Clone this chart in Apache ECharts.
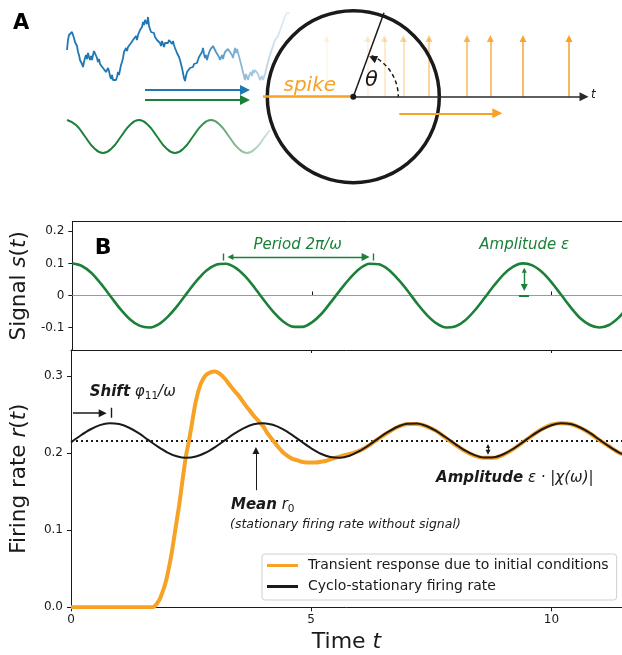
<!DOCTYPE html>
<html>
<head>
<meta charset="utf-8">
<script src="https://cdn.jsdelivr.net/npm/echarts@6/dist/echarts.min.js"></script>
<style>
  html, body { margin: 0; padding: 0; background: #fff; }
  #chart { width: 622px; height: 655px; }
</style>
</head>
<body>
<div id="chart"></div>
<script>
const FONT = "DejaVu Sans";
const ORANGE = "#f7a125";
const GREEN = "#1b8038";
const BLUE = "#1f77b4";
const INK = "#1a1a1a";

// ---- panel B: values ----
const timeTicks = [0, 5, 10];
const timeTickLabels = ["0", "5", "10"];
const signalTicks = [-0.1, 0, 0.1, 0.2];
const signalTickLabels = ["-0.1", "0", "0.1", "0.2"];
const rateTicks = [0, 0.1, 0.2, 0.3];
const rateTickLabels = ["0.0", "0.1", "0.2", "0.3"];

const sampleT = [0, 0.2, 0.4, 0.6, 0.8, 1.0, 1.2, 1.4, 1.6, 1.8, 2.0, 2.2, 2.4, 2.6, 2.8, 3.0, 3.2, 3.4, 3.6, 3.8,
  4.0, 4.2, 4.4, 4.6, 4.8, 5.0, 5.2, 5.4, 5.6, 5.8, 6.0, 6.2, 6.4, 6.6, 6.8, 7.0, 7.2, 7.4, 7.6, 7.8,
  8.0, 8.2, 8.4, 8.6, 8.8, 9.0, 9.2, 9.4, 9.6, 9.8, 10.0, 10.2, 10.4, 10.6, 10.8, 11.0, 11.2, 11.4, 11.6];
const signalS = [0.1, 0.092, 0.070, 0.036, -0.003, -0.042, -0.074, -0.094, -0.100, -0.090, -0.065, -0.031, 0.009,
  0.047, 0.078, 0.096, 0.099, 0.087, 0.061, 0.025, -0.015, -0.052, -0.081, -0.097, -0.098, -0.084, -0.057,
  -0.020, 0.019, 0.055, 0.084, 0.099, 0.097, 0.080, 0.050, 0.014, -0.026, -0.061, -0.087, -0.100, -0.096,
  -0.077, -0.046, -0.008, 0.031, 0.066, 0.090, 0.100, 0.094, 0.073, 0.041, 0.002, -0.037, -0.071, -0.092,
  -0.100, -0.092, -0.069, -0.035];
const cycloRate = [0.2141, 0.2230, 0.2308, 0.2365, 0.2389, 0.2379, 0.2334, 0.2263, 0.2176, 0.2088, 0.2012, 0.1960,
  0.1940, 0.1957, 0.2006, 0.2080, 0.2167, 0.2254, 0.2327, 0.2375, 0.2390, 0.2369, 0.2315, 0.2238, 0.2150,
  0.2064, 0.1993, 0.1950, 0.1941, 0.1968, 0.2026, 0.2104, 0.2193, 0.2276, 0.2344, 0.2383, 0.2386, 0.2353,
  0.2289, 0.2207, 0.2119, 0.2037, 0.1975, 0.1943, 0.1947, 0.1987, 0.2055, 0.2141, 0.2230, 0.2308, 0.2364,
  0.2389, 0.2379, 0.2334, 0.2263, 0.2176, 0.2088, 0.2012, 0.1959];
const transientT = [0, 0.5, 1.0, 1.5, 1.7, 1.75, 1.8, 1.85, 1.9, 1.95, 2.0, 2.05, 2.1, 2.15, 2.2, 2.25, 2.3, 2.35,
  2.4, 2.45, 2.5, 2.6, 2.7, 2.8, 2.9, 3.0, 3.1, 3.2, 3.3, 3.4, 3.5, 3.6, 3.7, 3.8, 3.9, 4.0, 4.1, 4.2, 4.3,
  4.4, 4.5, 4.6, 4.7, 4.8, 4.9, 5.0, 5.1, 5.2, 5.3, 5.4, 5.5, 5.6, 5.8, 6.0, 6.2, 6.4, 6.6, 6.8, 7.0, 7.2,
  7.4, 7.6, 7.8, 8.0, 8.2, 8.4, 8.6, 8.8, 9.0, 9.2, 9.4, 9.6, 9.8, 10.0, 10.2, 10.4, 10.6, 10.8, 11.0, 11.2,
  11.4, 11.6];
const transientRate = [0, 0, 0, 0, 0, 0.002, 0.006, 0.011, 0.019, 0.028, 0.040, 0.055, 0.072, 0.092, 0.112,
  0.132, 0.155, 0.178, 0.199, 0.214, 0.232, 0.268, 0.290, 0.301, 0.305, 0.306, 0.303, 0.297, 0.289, 0.281,
  0.274, 0.265, 0.257, 0.249, 0.242, 0.235, 0.225, 0.217, 0.209, 0.202, 0.197, 0.193, 0.191, 0.189, 0.188,
  0.188, 0.188, 0.189, 0.190, 0.192, 0.194, 0.196, 0.199, 0.203, 0.210, 0.219, 0.227, 0.234, 0.238, 0.238,
  0.235, 0.229, 0.220, 0.211, 0.203, 0.197, 0.194, 0.194, 0.198, 0.205, 0.214, 0.223, 0.231, 0.237, 0.239,
  0.238, 0.233, 0.226, 0.217, 0.209, 0.201, 0.196];
const meanRate = 0.2165;
const T_MAX = 11.47;

// ---- panel A sketch readings (sketch frame: 622 x 200, y down) ----
const blueNoiseStart = 67;
const blueNoise = [50, 40, 35, 33, 36, 32, 35, 38, 42, 40, 46, 52, 55, 60, 58, 64, 67, 62, 58, 55, 59, 53, 57, 60,
  56, 60, 55, 51, 49, 53, 58, 62, 59, 64, 66, 63, 68, 70, 67, 72, 73, 68, 71, 76, 79, 75, 80, 82, 78, 80, 77,
  72, 75, 70, 65, 62, 58, 52, 50, 48, 51, 47, 45, 46, 43, 44, 40, 42, 38, 36, 40, 35, 33, 30, 31, 27, 22, 25,
  20, 18, 24, 17, 26, 29, 32, 30, 34, 33, 37, 35, 40, 42, 38, 43, 46, 41, 44, 47, 43, 45, 41, 43, 40, 42, 39,
  44, 41, 45, 48, 50, 53, 51, 57, 60, 64, 68, 73, 78, 81, 76, 72, 70, 73, 68, 70, 66, 67, 64, 62, 66, 63, 60,
  57, 58, 55, 52, 48, 54, 58, 55, 60, 56, 54, 50, 52, 48, 46, 44, 47, 52, 50, 54, 57, 60, 58, 55, 59, 55, 52,
  50, 53, 49, 48, 52, 50, 55, 58, 56, 48, 53, 49, 47, 50, 60, 64, 66, 72, 76, 80, 74, 77, 80, 76, 75, 72, 76,
  70, 73, 70, 68, 72, 74, 76, 80, 78, 76, 80, 77, 74, 70, 68, 62, 58, 55, 52, 50, 46, 45, 40, 42, 38, 36, 33,
  32, 28, 26, 22, 20, 16, 15, 13, 14, 12, 13];
const greenSketch = [[67, 120], [76, 125], [85, 136.5], [94, 148], [103, 153], [112, 148], [121, 136.5],
  [130, 125], [139, 120], [148, 125], [157, 136.5], [166, 148], [175, 153], [184, 148], [193, 136.5],
  [202, 125], [211, 120], [220, 125], [229, 136.5], [238, 148], [247, 153], [256, 148], [265, 136.5], [270, 130]];
const phaseCenter = [353.3, 96.7];
const phaseRadius = 86;
const spikeX = [326.7, 367.7, 384.3, 403.3, 429, 467, 490.3, 523, 569];
const spikeAlpha = [0.1, 0.18, 0.28, 0.42, 0.58, 0.75, 0.85, 0.95, 1];

const chart = echarts.init(document.getElementById("chart"), null, { renderer: "canvas" });

function seg(grid, coords, color, width, opts = {}) {
  return {
    type: "lines",
    coordinateSystem: "cartesian2d",
    xAxisIndex: grid,
    yAxisIndex: grid,
    silent: true,
    z: opts.z || 6,
    symbol: opts.symbol || ["none", "none"],
    symbolSize: opts.size || 8,
    lineStyle: { color, width, type: opts.dash || "solid", opacity: 1, curveness: 0 },
    data: coords.map((c) => ({ coords: c })),
  };
}

function tickLabel(ticks, labels) {
  return (v) => {
    const i = ticks.findIndex((t) => Math.abs(t - v) < 1e-9);
    return i >= 0 ? labels[i] : "";
  };
}

const axisLine = { show: true, lineStyle: { color: INK, width: 1 } };
const labelStyle = { fontFamily: FONT, fontSize: 12, color: INK };

const fadeBlue = {
  type: "linear", x: 195, y: 0, x2: 290, y2: 0, global: true,
  colorStops: [
    { offset: 0, color: "rgba(31,119,180,1)" },
    { offset: 0.45, color: "rgba(31,119,180,0.55)" },
    { offset: 1, color: "rgba(31,119,180,0.1)" },
  ],
};
const fadeGreen = {
  type: "linear", x: 190, y: 0, x2: 272, y2: 0, global: true,
  colorStops: [
    { offset: 0, color: "rgba(27,128,56,1)" },
    { offset: 1, color: "rgba(27,128,56,0.18)" },
  ],
};

const arrowHead = ["none", "triangle"];
const bothHeads = ["triangle", "triangle"];

const option = {
  animation: false,
  backgroundColor: "#fff",
  textStyle: { fontFamily: FONT },
  grid: [
    { left: 0, top: 0, width: 622, height: 200 },
    { left: 70.6, top: 221.7, width: 553, height: 128.3 },
    { left: 70.6, top: 350, width: 553, height: 257.3 },
  ],
  xAxis: [
    { gridIndex: 0, type: "value", min: 0, max: 622, show: false },
    {
      gridIndex: 1, type: "value", min: 0, max: T_MAX,
      axisLine, splitLine: { show: false }, axisLabel: { show: false },
      axisTick: { show: true, inside: true, length: 4, customValues: timeTicks, lineStyle: { color: INK } },
    },
    {
      gridIndex: 2, type: "value", min: 0, max: T_MAX,
      name: "{n|Time }{i|t}", nameLocation: "middle", nameGap: 24,
      nameTextStyle: {
        rich: {
          n: { fontFamily: FONT, fontSize: 22, color: INK },
          i: { fontFamily: FONT, fontSize: 22, fontStyle: "italic", color: INK },
        },
      },
      axisLine, splitLine: { show: false },
      axisTick: { show: true, length: 4, customValues: timeTicks, lineStyle: { color: INK } },
      axisLabel: Object.assign({ margin: 7, customValues: timeTicks, formatter: tickLabel(timeTicks, timeTickLabels) }, labelStyle),
    },
    {
      gridIndex: 1, type: "value", min: 0, max: T_MAX, position: "top",
      axisLine, splitLine: { show: false }, axisLabel: { show: false }, axisTick: { show: false },
    },
    {
      gridIndex: 2, type: "value", min: 0, max: T_MAX, position: "top",
      axisLine, splitLine: { show: false }, axisLabel: { show: false },
      axisTick: { show: true, inside: true, length: 3, customValues: timeTicks, lineStyle: { color: INK } },
    },
  ],
  yAxis: [
    { gridIndex: 0, type: "value", min: 0, max: 200, inverse: true, show: false },
    {
      gridIndex: 1, type: "value", min: -0.17, max: 0.23,
      name: "Signal {i|s}({i|t})", nameLocation: "middle", nameGap: 41,
      nameTextStyle: {
        fontFamily: FONT, fontSize: 21.5, color: INK,
        rich: { i: { fontFamily: FONT, fontSize: 21.5, fontStyle: "italic", color: INK } },
      },
      axisLine, splitLine: { show: false },
      axisTick: { show: true, length: 4, customValues: signalTicks, lineStyle: { color: INK } },
      axisLabel: Object.assign({ margin: 8, customValues: signalTicks, formatter: tickLabel(signalTicks, signalTickLabels) }, labelStyle),
    },
    {
      gridIndex: 2, type: "value", min: 0, max: 0.334,
      name: "Firing rate {i|r}({i|t})", nameLocation: "middle", nameGap: 41,
      nameTextStyle: {
        fontFamily: FONT, fontSize: 21.5, color: INK,
        rich: { i: { fontFamily: FONT, fontSize: 21.5, fontStyle: "italic", color: INK } },
      },
      axisLine, splitLine: { show: false },
      axisTick: { show: true, length: 4, customValues: rateTicks, lineStyle: { color: INK } },
      axisLabel: Object.assign({ margin: 8, customValues: rateTicks, formatter: tickLabel(rateTicks, rateTickLabels) }, labelStyle),
    },
  ],
  legend: {
    data: ["Transient response due to initial conditions", "Cyclo-stationary firing rate"],
    orient: "vertical",
    left: 262, top: 554,
    padding: [4, 8, 6, 5],
    itemWidth: 31, itemHeight: 3, itemGap: 6,
    icon: "rect",
    textStyle: { fontFamily: FONT, fontSize: 14, color: INK, lineHeight: 15, padding: [0, 0, 0, 5] },
    borderColor: "#d0d0d0", borderWidth: 1, borderRadius: 3,
    backgroundColor: "rgba(255,255,255,0.85)",
  },
  series: [
    // panel A sketch
    {
      type: "line", xAxisIndex: 0, yAxisIndex: 0, showSymbol: false, symbol: "none", silent: true,
      lineStyle: { color: fadeBlue, width: 1.8 },
      data: blueNoise.map((y, i) => [blueNoiseStart + i, y]),
    },
    {
      type: "line", xAxisIndex: 0, yAxisIndex: 0, showSymbol: false, symbol: "none", silent: true, smooth: 0.5,
      lineStyle: { color: fadeGreen, width: 2 },
      data: greenSketch,
    },
    {
      type: "scatter", xAxisIndex: 0, yAxisIndex: 0, silent: true, symbol: "circle", symbolSize: phaseRadius * 2,
      itemStyle: { color: "rgba(0,0,0,0)", borderColor: INK, borderWidth: 3.5, opacity: 1 },
      data: [phaseCenter], z: 4,
    },
    seg(0, [[[145, 90], [245, 90]]], BLUE, 2, { symbol: arrowHead, size: [8, 10] }),
    seg(0, [[[145, 100], [245, 100]]], GREEN, 2, { symbol: arrowHead, size: [8, 10] }),
    seg(0, [[[399.3, 113.3], [497.3, 113.3]]], ORANGE, 2, { symbol: arrowHead, size: [8, 10] }),
    seg(0, [[phaseCenter, [584, 96.7]]], "#2a2a2a", 1.6, { symbol: arrowHead, size: [7, 9] }),
    seg(0, [[[263, 96.7], phaseCenter]], ORANGE, 2.5),
    seg(0, [[phaseCenter, [384, 12.7]]], INK, 1.5),
    seg(0, [[[374.8, 58.8], [372.8, 57.9]]], INK, 1.2, { symbol: arrowHead, size: [7, 8] }),
    ...spikeX.map((x, i) => seg(0, [[[x, 96.7], [x, 38.5]]], `rgba(247,161,37,${spikeAlpha[i]})`, 1.5,
      { symbol: arrowHead, size: [5, 7], z: 3 })),
    {
      type: "scatter", xAxisIndex: 0, yAxisIndex: 0, silent: true, symbolSize: 6,
      itemStyle: { color: INK, opacity: 1 }, data: [phaseCenter], z: 8,
    },

    // panel B, signal
    seg(1, [[[0, 0], [T_MAX, 0]]], "#9a9a9a", 1.2, { z: 2 }),
    {
      type: "line", xAxisIndex: 1, yAxisIndex: 1, showSymbol: false, symbol: "none", smooth: 0.3, silent: true,
      lineStyle: { color: GREEN, width: 2.6 }, z: 4,
      data: sampleT.map((t, i) => [t, signalS[i]]),
    },
    seg(1, [[[3.3, 0.12], [6.12, 0.12]]], GREEN, 1.4, { symbol: bothHeads, size: [6, 8] }),
    seg(1, [[[3.14, 0.109], [3.14, 0.131]], [[6.28, 0.109], [6.28, 0.131]]], GREEN, 1.4),
    seg(1, [[[9.43, 0.079], [9.43, 0.025]]], GREEN, 1.4, { symbol: bothHeads, size: [5, 7] }),
    seg(1, [[[9.32, 0], [9.53, 0]]], GREEN, 2.2),

    // panel B, firing rate
    seg(2, [[[0, meanRate], [T_MAX, meanRate]]], INK, 2, { dash: [2, 3], z: 2 }),
    {
      name: "Transient response due to initial conditions",
      type: "line", xAxisIndex: 2, yAxisIndex: 2, showSymbol: false, symbol: "none", smooth: 0.3, silent: true,
      lineStyle: { color: ORANGE, width: 4 }, itemStyle: { color: ORANGE }, z: 3,
      data: transientT.map((t, i) => [t, transientRate[i]]),
    },
    {
      name: "Cyclo-stationary firing rate",
      type: "line", xAxisIndex: 2, yAxisIndex: 2, showSymbol: false, symbol: "none", smooth: 0.3, silent: true,
      lineStyle: { color: INK, width: 2 }, itemStyle: { color: INK }, z: 4,
      data: sampleT.map((t, i) => [t, cycloRate[i]]),
    },
    seg(2, [[[0.04, 0.252], [0.66, 0.252]]], INK, 1.5, { symbol: arrowHead, size: [6, 8] }),
    seg(2, [[[0.83, 0.246], [0.83, 0.259]]], INK, 1.4),
    seg(2, [[[3.85, 0.152], [3.85, 0.2035]]], INK, 1, { symbol: arrowHead, size: [5, 7] }),
    seg(2, [[[8.68, 0.2095], [8.68, 0.2012]]], INK, 1.2, { symbol: bothHeads, size: [4, 5] }),
  ],
};

chart.setOption(option);

// ---- text annotations, anchored through the grids' own coordinate systems ----
const px = (g, p) => chart.convertToPixel({ gridIndex: g }, p);

function txt(pos, text, style) {
  return {
    type: "text", x: pos[0], y: pos[1], silent: true, z: 50,
    style: Object.assign({ text, fontFamily: FONT, fill: INK, align: "left", verticalAlign: "middle" }, style),
  };
}

const bi = { fontFamily: FONT, fontWeight: "bold", fontStyle: "italic", fontSize: 15, fill: INK };
const it = { fontFamily: FONT, fontStyle: "italic", fontSize: 15, fill: INK };
const sub = { fontFamily: FONT, fontSize: 10.5, fill: INK, verticalAlign: "top", padding: [8, 0, 0, 0] };

const c = px(0, phaseCenter);
const arcStart = px(0, [398.3, 96.7]);

chart.setOption({
  graphic: [
    txt(px(0, [13, 24]), "A", { fontSize: 21, fontWeight: "bold", fill: "#000" }),
    txt(px(0, [283.5, 86]), "spike", { fontSize: 20, fontStyle: "italic", fill: ORANGE }),
    txt(px(0, [371.5, 81]), "θ", { fontSize: 21, fontStyle: "italic", align: "center" }),
    txt(px(0, [591, 94.5]), "t", { fontSize: 12, fontStyle: "italic" }),
    {
      type: "arc", silent: true, z: 40,
      shape: { cx: c[0], cy: c[1], r: arcStart[0] - c[0], startAngle: -1.15, endAngle: 0, clockwise: true },
      style: { stroke: INK, lineWidth: 1.5, lineDash: [4, 3], fill: null },
    },
    txt(px(1, [0.47, 0.147]), "B", { fontSize: 22, fontWeight: "bold", fill: "#000" }),
    txt(px(1, [4.70, 0.158]), "Period 2π/ω", { fontSize: 15, fontStyle: "italic", fill: GREEN, align: "center" }),
    txt(px(1, [9.43, 0.158]), "Amplitude ε", { fontSize: 15, fontStyle: "italic", fill: GREEN, align: "center" }),
    txt(px(2, [0.39, 0.279]), "{b|Shift} {i|φ}{s|11}{i|/ω}", { fontSize: 15, rich: { b: bi, i: it, s: sub } }),
    txt(px(2, [3.33, 0.133]), "{b|Mean} {i|r}{s|0}", { fontSize: 15, rich: { b: bi, i: it, s: sub } }),
    txt(px(2, [3.31, 0.107]), "(stationary firing rate without signal)", { fontSize: 12.5, fontStyle: "italic" }),
    txt(px(2, [7.6, 0.1675]), "{b|Amplitude} {i|ε · |χ(ω)|}", { fontSize: 15, rich: { b: bi, i: it } }),
  ],
});
</script>
</body>
</html>
